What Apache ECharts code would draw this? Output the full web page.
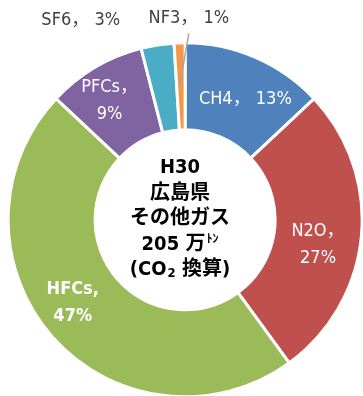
<!DOCTYPE html>
<html>
<head>
<meta charset="utf-8">
<script src="https://cdn.jsdelivr.net/npm/echarts@6/dist/echarts.min.js"></script>
<style>
  html, body { margin: 0; padding: 0; background: #ffffff; }
  #chart { width: 363px; height: 396px; }
</style>
</head>
<body>
<div id="chart"></div>
<script>
// Gas categories and their share (%) of the total, clockwise from the top
const gases = ['CH4', 'N2O', 'HFCs', 'PFCs', 'SF6', 'NF3'];
const shares = [13, 27, 47, 9, 3, 1];

// Text written in the hole of the ring
const centerYear = 'H30';
const centerPlace = '広島県';
const centerTitle = 'その他ガス';
const centerTotal = '205';
const centerUnitMain = '万';
const centerUnitSmall = 'ﾄﾝ';
const centerNote = ['(CO', '2', ' 換算)'];

// ---- styling ----
const colors = ['#4F81BD', '#C0504D', '#9BBB59', '#8064A2', '#4BACC6', '#F79646'];
const separators = ['， ', '，\n', ',\n', '，\n', '， ', '， '];
const boldLabel = [false, false, true, false, false, false];
const outsideLabel = [false, false, false, false, true, true];
const withLeader = [false, false, false, false, false, true];
const labelShift = [[6, 5], [-3, 12], [-10, -7], [-6, -1], [0, -10], [85, -10]];

const narrowFont = "'Liberation Sans Narrow', 'DejaVu Sans Condensed', 'Noto Sans CJK JP', sans-serif";

const pieData = gases.map((g, i) => ({
  name: g,
  value: shares[i],
  itemStyle: { color: colors[i] },
  label: outsideLabel[i]
    ? { position: 'outside', color: '#404040', fontSize: 18 }
    : { position: 'inside', color: '#ffffff', fontSize: 18, fontWeight: boldLabel[i] ? 'bold' : 'normal' },
  labelLine: { show: false }
}));

// Shift each label; for a label with a leader, remember where its slice sits
// and where the shifted label ends so the leader can be laid over the ring
let leader = null;
function placeLabel(p) {
  const [dx, dy] = labelShift[p.dataIndex];
  if (withLeader[p.dataIndex] && !leader) {
    const r = p.rect, l = p.labelRect;
    leader = {
      x1: r.x + r.width / 2,
      y1: r.y + r.height / 2,
      x2: l.x + dx + l.width / 2,
      y2: l.y + dy + l.height + 2
    };
  }
  return { dx: dx, dy: dy };
}

const chart = echarts.init(document.getElementById('chart'), null, { renderer: 'canvas' });

chart.setOption({
  animation: false,
  backgroundColor: '#ffffff',
  series: [{
    type: 'pie',
    center: ['51%', '55.5%'],
    radius: [90, 177],
    startAngle: 90,
    clockwise: true,
    avoidLabelOverlap: false,
    minShowLabelAngle: 0,
    itemStyle: { borderColor: '#ffffff', borderWidth: 3 },
    label: {
      fontFamily: narrowFont,
      lineHeight: 27,
      align: 'center',
      formatter: p => p.name + separators[p.dataIndex] + p.value + '%'
    },
    labelLayout: placeLabel,
    emphasis: { disabled: true },
    data: pieData
  }],
  graphic: [{
    id: 'centerText',
    type: 'text',
    x: 180,
    y: 219,
    style: {
      text: [
        '{m|' + centerYear + '}',
        '{m|' + centerPlace + '}',
        '{m|' + centerTitle + '}',
        '{m|' + centerTotal + ' ' + centerUnitMain + '}{t|' + centerUnitSmall + '}',
        '{m|' + centerNote[0] + '}{s|' + centerNote[1] + '}{m|' + centerNote[2] + '}'
      ].join('\n'),
      align: 'center',
      verticalAlign: 'middle',
      fill: '#000000',
      rich: {
        m: { fontFamily: narrowFont, fontSize: 20, fontWeight: 'bold', lineHeight: 25.5, fill: '#000000' },
        t: { fontFamily: narrowFont, fontSize: 12, fontWeight: 'bold', padding: [0, 0, 9, 1], fill: '#000000' },
        s: { fontFamily: narrowFont, fontSize: 13, fontWeight: 'bold', padding: [7, 0, 0, 1], fill: '#000000' }
      }
    }
  }]
});

// Leader for the thin slice, added straight to the canvas scene so the chart is not re-laid out
let leaderDrawn = false;
function drawLeader() {
  if (leaderDrawn || !leader) return;
  leaderDrawn = true;
  chart.getZr().add(new echarts.graphic.Line({
    shape: leader,
    style: { stroke: '#A6A6A6', lineWidth: 1.5 },
    z: 100,
    silent: true
  }));
}
drawLeader();
chart.on('finished', drawLeader);
</script>
</body>
</html>
